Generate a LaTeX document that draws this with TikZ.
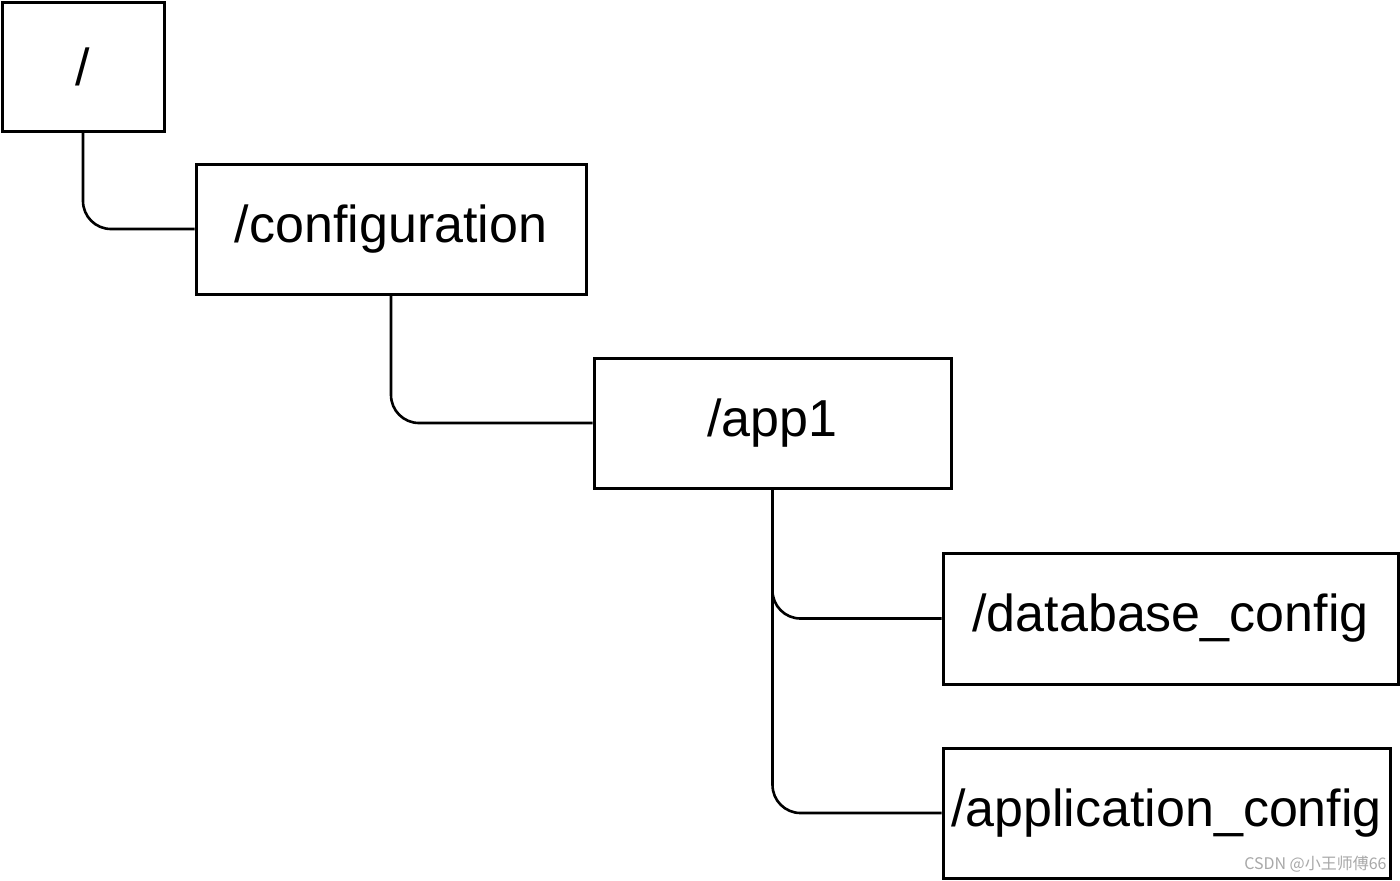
\documentclass[tikz,border=0pt]{standalone}
\usepackage{fontspec}
\setmainfont{Liberation Sans}
\newfontfamily\cjk{Noto Sans CJK SC}
\usetikzlibrary{positioning}
\definecolor{ink}{HTML}{000000}
\definecolor{mark}{HTML}{A8A8A8}
\tikzset{
  every node/.style={text=ink},
  dirbox/.style={draw=ink,line width=1.5pt,fill=white,minimum height=65pt,inner sep=0pt,align=center,font=\fontsize{26}{31}\selectfont},
  link/.style={draw=ink,line width=1.3pt,rounded corners=14pt},
  wmark/.style={font=\cjk\fontsize{8}{9}\selectfont,text=mark,inner sep=0pt},
}
\begin{document}
\begin{tikzpicture}[x=0.5pt,y=-0.5pt]
\useasboundingbox (0,0) rectangle (1400,880);

\node[dirbox,minimum width=81pt,minimum height=64.5pt] (root) at (83,66.5) {/};
\node[dirbox,minimum width=195pt] (conf) at (391,229) {/configuration};
\node[dirbox,minimum width=178.5pt] (app) at (772.5,423) {/app1};
\node[dirbox,minimum width=227.5pt,minimum height=65.5pt] (dbconf) at (1170.5,618.5) {/database\_config};
\node[dirbox,minimum width=223.5pt] (appconf) at (1166.5,813) {/application\_config};

\draw[link] (root.south) |- (conf.west);
\draw[link] (conf.south) |- (app.west);
\draw[link] (app.south) |- (dbconf.west);
\draw[link] (app.south) |- (appconf.west);

\node[wmark,anchor=east] (mark) at (1387,864) {CSDN @小王师傅66};

\end{tikzpicture}
\end{document}
